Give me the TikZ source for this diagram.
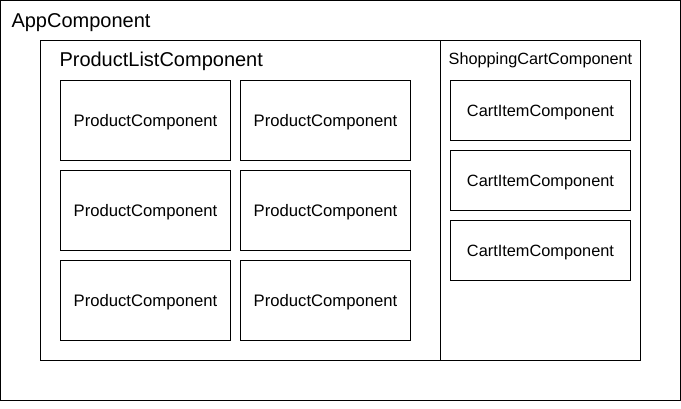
\documentclass[tikz,border=0pt]{standalone}
\usepackage{fontspec}
\setmainfont{Liberation Sans}
\begin{document}
\begin{tikzpicture}[x=0.75pt,y=-0.75pt,line width=0.75pt,
  frame/.style={draw,rectangle,inner sep=0pt},
  pbox/.style={draw,rectangle,inner sep=0pt,minimum width=127.5pt,minimum height=60pt,text height=9pt,text depth=0pt,font=\fontsize{12.5}{14}\selectfont},
  cbox/.style={draw,rectangle,inner sep=0pt,minimum width=135pt,minimum height=45pt,text height=9pt,text depth=0pt,font=\fontsize{12.25}{14}\selectfont},
  title/.style={inner sep=0pt}]
\useasboundingbox (0,0) rectangle (681,409);
\node[frame,minimum width=510pt,minimum height=300pt] (app) at (340.5,200.5) {};
\node[frame,minimum width=300pt,minimum height=240pt] (list) at (240.5,200.5) {};
\node[frame,minimum width=150pt,minimum height=240pt] (cart) at (540.5,200.5) {};
\node[title,anchor=base west,font=\fontsize{15}{18}\selectfont] (apptitle) at (11,28) {AppComponent};
\node[title,anchor=base west,font=\fontsize{15}{18}\selectfont] (listtitle) at (59,67) {ProductListComponent};
\node[title,anchor=base,font=\fontsize{12.2}{14}\selectfont] (carttitle) at (540.5,65) {ShoppingCartComponent};
\node[pbox] (p1) at (145.5,120.5) {ProductComponent};
\node[pbox] (p2) at (325.5,120.5) {ProductComponent};
\node[pbox] (p3) at (145.5,210.5) {ProductComponent};
\node[pbox] (p4) at (325.5,210.5) {ProductComponent};
\node[pbox] (p5) at (145.5,300.5) {ProductComponent};
\node[pbox] (p6) at (325.5,300.5) {ProductComponent};
\node[cbox] (c1) at (540.5,110.5) {CartItemComponent};
\node[cbox] (c2) at (540.5,180.5) {CartItemComponent};
\node[cbox] (c3) at (540.5,250.5) {CartItemComponent};
\end{tikzpicture}
\end{document}
